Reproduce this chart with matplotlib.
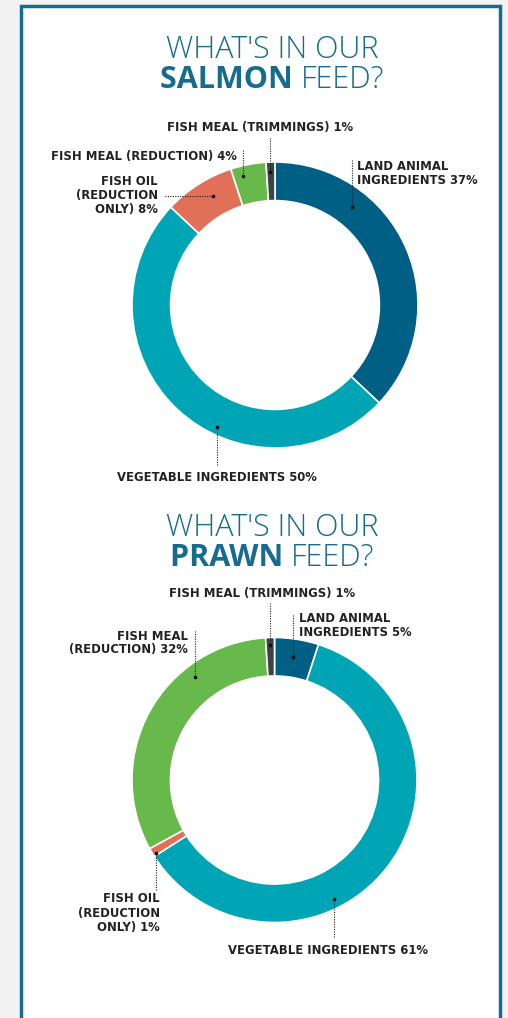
import matplotlib.pyplot as plt
from matplotlib.patches import Rectangle

W, H = 508, 1018

categories = ["LAND ANIMAL INGREDIENTS", "VEGETABLE INGREDIENTS", "FISH OIL (REDUCTION ONLY)",
              "FISH MEAL (REDUCTION)", "FISH MEAL (TRIMMINGS)"]
salmon = [37, 50, 8, 4, 1]
prawn = [5, 61, 1, 32, 1]
colors = ["#005f85", "#00a5b5", "#e07058", "#66b94a", "#3d4248"]

TITLE_C = "#176b8c"
TXT_C = "#222222"
FONT = "Open Sans"
LFONT = "DejaVu Sans"
CX = 272
TS = 22

fig = plt.figure(figsize=(W / 100, H / 100), dpi=100)
fig.patch.set_facecolor("#f2f2f2")
ax = fig.add_axes([0, 0, 1, 1])


def Y(py):
    return H - py


def donut(vals, cx, cy, r):
    ax.pie(vals, colors=colors, startangle=90, counterclock=False, radius=r,
           center=(cx, Y(cy)), wedgeprops=dict(width=r * 0.27, edgecolor="white", linewidth=1.2))


def label(x, y, txt, ha="left"):
    ax.text(x, Y(y), txt, ha=ha, va="center", fontsize=8.4, color=TXT_C, family=LFONT,
            fontweight="bold", linespacing=1.1)


def leader(x0, y0, x1, y1):
    ax.plot([x0, x1], [Y(y0), Y(y1)], ls=(0, (1.0, 1.2)), color="#222222", lw=0.8)
    ax.plot([x1], [Y(y1)], "s", color="#111111", ms=1.8)


ax.add_patch(Rectangle((21, Y(1040)), 479, 1034, fill=True, facecolor="white",
                       edgecolor="#176b8c", lw=2.5, zorder=0))

# salmon
ax.text(CX, Y(50), "WHAT'S IN OUR", ha="center", va="center", fontsize=TS,
        color=TITLE_C, family=FONT, fontweight="light")
donut(salmon, 275, 305, 143)
label(260, 127, "FISH MEAL (TRIMMINGS) 1%", ha="center")
leader(270, 138, 270, 172)
label(237, 156, "FISH MEAL (REDUCTION) 4%", ha="right")
leader(243, 150, 243, 176)
label(158, 195, "FISH OIL\n(REDUCTION\nONLY) 8%", ha="right")
leader(165, 196, 213, 196)
label(357, 173, "LAND ANIMAL\nINGREDIENTS 37%")
leader(352, 160, 352, 207)
label(117, 477, "VEGETABLE INGREDIENTS 50%")
leader(217, 465, 217, 427)

# prawn
ax.text(CX, Y(528), "WHAT'S IN OUR", ha="center", va="center", fontsize=TS,
        color=TITLE_C, family=FONT, fontweight="light")
donut(prawn, 274.5, 780, 142.5)
label(262, 593, "FISH MEAL (TRIMMINGS) 1%", ha="center")
leader(270, 603, 270, 645)
label(299, 626, "LAND ANIMAL\nINGREDIENTS 5%")
leader(293, 615, 293, 657)
label(188, 643, "FISH MEAL\n(REDUCTION) 32%", ha="right")
leader(195, 631, 195, 677)
label(160, 913, "FISH OIL\n(REDUCTION\nONLY) 1%", ha="right")
leader(156, 890, 156, 853)
label(228, 950, "VEGETABLE INGREDIENTS 61%")
leader(334, 937, 334, 899)

ax.set_xlim(0, W)
ax.set_ylim(0, H)
ax.set_aspect("auto")
ax.axis("off")

fig.canvas.draw()
rend = fig.canvas.get_renderer()


def two_part(y, bold, rest):
    a = ax.text(0, Y(y), bold + " ", ha="left", va="center", fontsize=TS, color=TITLE_C,
                family=FONT, fontweight="bold")
    b = ax.text(0, Y(y), rest, ha="left", va="center", fontsize=TS, color=TITLE_C,
                family=FONT, fontweight="light")
    wa = a.get_window_extent(rend).width
    wb = b.get_window_extent(rend).width
    x0 = CX - (wa + wb) / 2
    a.set_x(x0)
    b.set_x(x0 + wa)


two_part(80, "SALMON", "FEED?")
two_part(558, "PRAWN", "FEED?")

fig.savefig("out.png", dpi=100, facecolor=fig.get_facecolor())
